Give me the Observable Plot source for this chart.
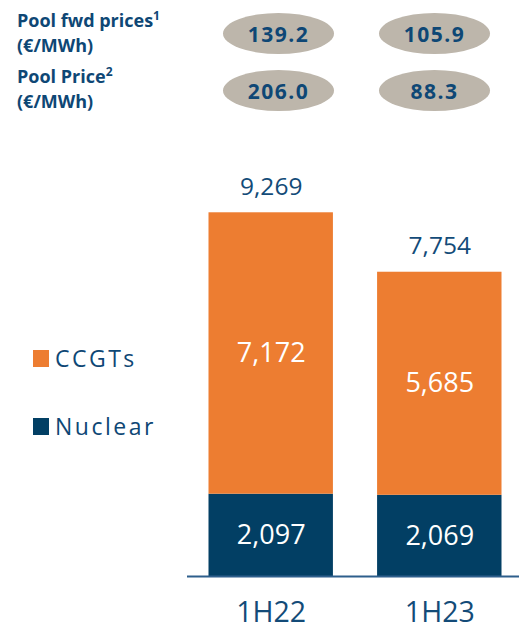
<!DOCTYPE html>
<html>
<head>
<meta charset="utf-8">
<script src="https://cdn.jsdelivr.net/npm/d3@7"></script>
<script src="https://cdn.jsdelivr.net/npm/@observablehq/plot@0.6"></script>
<style>
  html, body { margin: 0; padding: 0; background: #fff; }
  #wrap { position: relative; width: 519px; height: 630px; font-family: "Open Sans", sans-serif; overflow: hidden; }
  #chart { position: absolute; left: 0; top: 0; }
  .hdr { position: absolute; left: 17px; font-weight: 700; font-size: 18px; line-height: 25px; color: #0E4775; white-space: nowrap; }
  .hdr sup { font-size: 12px; vertical-align: 7px; line-height: 0; }
  .pill { position: absolute; width: 111px; height: 41px; border-radius: 50%; background: #BDB6AB; color: #0E4775;
          font-weight: 700; font-size: 21px; display: flex; align-items: center; justify-content: center; letter-spacing: 1.5px; }
  .leg { position: absolute; left: 33px; display: flex; align-items: center; }
  .leg .sw { width: 16px; height: 17px; margin-right: 6px; }
  .leg .lb { font-size: 23px; color: #0E4775; letter-spacing: 2.5px; line-height: 24px; }
</style>
</head>
<body>
<div id="wrap">
  <div id="chart"></div>
</div>
<script>
// ---- data ----
const categories = ["1H22", "1H23"];
const series = ["Nuclear", "CCGTs"];
const nuclear = [2097, 2069];
const ccgts = [7172, 5685];
const totals = [9269, 7754];
const rowLabels = [["Pool fwd prices", "1"], ["Pool Price", "2"]];
const unitLabel = "(€/MWh)";
const fwdPrices = ["139.2", "105.9"];
const poolPrices = ["206.0", "88.3"];

// ---- style ----
const navyBar = "#023F64";
const orange = "#ED7D31";
const textNavy = "#134B78";
const fmt = d3.format(",");

const data = categories.flatMap((c, i) => [
  {cat: c, series: series[0], value: nuclear[i]},
  {cat: c, series: series[1], value: ccgts[i]}
]);
const totalData = categories.map((c, i) => ({cat: c, total: totals[i]}));

const chart = Plot.plot({
  width: 519,
  height: 630,
  marginLeft: 187,
  marginRight: 0,
  marginTop: 184,
  marginBottom: 54,
  style: {fontFamily: "'Open Sans', sans-serif", background: "transparent", overflow: "visible"},
  x: {domain: categories, range: [208.5, 501.5], paddingInner: 0.262, paddingOuter: 0, round: false, axis: null},
  y: {domain: [0, 10000], range: [576, 183.6], axis: null},
  color: {domain: series, range: [navyBar, orange]},
  marks: [
    Plot.barY(data, {x: "cat", y: "value", fill: "series"}),
    Plot.text(data, Plot.stackY({x: "cat", y: "value", z: "series", text: d => fmt(d.value),
      fill: "white", fontSize: 27, lineAnchor: "middle", letterSpacing: 0.5})),
    Plot.text(totalData, {x: "cat", y: "total", text: d => fmt(d.total), dy: -26,
      fill: textNavy, fontSize: 24.5, lineAnchor: "middle", letterSpacing: 1}),
    Plot.ruleY([0], {stroke: "#2E5F8C", strokeWidth: 2}),
    Plot.text(categories, {x: d => d, frameAnchor: "bottom", dy: 45, text: d => d,
      fill: textNavy, fontSize: 28.5, lineAnchor: "bottom", letterSpacing: 1.2})
  ]
});
document.getElementById("chart").appendChild(chart);

// ---- header table (HTML) ----
const wrap = document.getElementById("wrap");
const rowTops = [8, 64];
const pillTops = [13, 70];
const pillLefts = [223, 379];
[fwdPrices, poolPrices].forEach((vals, r) => {
  const h = document.createElement("div");
  h.className = "hdr";
  h.style.top = rowTops[r] + "px";
  h.innerHTML = rowLabels[r][0] + "<sup>" + rowLabels[r][1] + "</sup><br>" + unitLabel;
  wrap.appendChild(h);
  vals.forEach((v, i) => {
    const p = document.createElement("div");
    p.className = "pill";
    p.style.top = pillTops[r] + "px";
    p.style.left = pillLefts[i] + "px";
    p.textContent = v;
    wrap.appendChild(p);
  });
});

// ---- legend (HTML) ----
const legendTops = [346, 414];
const legendItems = ["CCGTs", "Nuclear"];
const legendColors = {Nuclear: navyBar, CCGTs: orange};
legendItems.forEach((name, i) => {
  const l = document.createElement("div");
  l.className = "leg";
  l.style.top = legendTops[i] + "px";
  l.innerHTML = `<div class="sw" style="background:${legendColors[name]}"></div><div class="lb">${name}</div>`;
  wrap.appendChild(l);
});
</script>
</body>
</html>
